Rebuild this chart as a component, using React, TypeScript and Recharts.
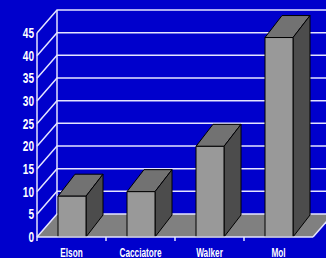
import React from "react";
import { BarChart, Bar, XAxis, YAxis, CartesianGrid } from "recharts";

const categories = ["Elson", "Cacciatore", "Walker", "Mol"];
const scores = [9, 10, 20, 44];
const yTicks = [0, 5, 10, 15, 20, 25, 30, 35, 40, 45];

const data = categories.map((name, i) => ({ name, value: scores[i] }));

// layout of the "3D" box
const W = 326;
const H = 258;
const LEFT = 37;
const RIGHT = 313;
const TOP = 33;
const BOTTOM = 237;
const DEPTH_X = 20;
const DEPTH_Y = 23;
const BAR_DX = 17;
const BAR_DY = 22;
const BAND = (RIGHT - LEFT) / categories.length;

const BG = "#0000cc";
const GRID = "#e4e4ff";
const FONT = "'Liberation Sans', Arial, sans-serif";

function GridLine(props) {
  const { x1, y1, index } = props;
  return (
    <g key={`g-${index}`}>
      {index === 0 && (
        <g>
          <polygon
            points={`${LEFT},${BOTTOM} ${RIGHT},${BOTTOM} ${RIGHT + DEPTH_X},${BOTTOM - DEPTH_Y} ${LEFT + DEPTH_X},${BOTTOM - DEPTH_Y}`}
            fill="#808080"
          />
          <line
            x1={LEFT + DEPTH_X}
            y1={TOP - DEPTH_Y}
            x2={LEFT + DEPTH_X}
            y2={BOTTOM - DEPTH_Y}
            stroke={GRID}
            strokeWidth={1.5}
          />
          <line x1={RIGHT} y1={BOTTOM} x2={RIGHT + DEPTH_X} y2={BOTTOM - DEPTH_Y} stroke={GRID} strokeWidth={1.5} />
        </g>
      )}
      <path
        d={`M${x1},${y1} L${x1 + DEPTH_X},${y1 - DEPTH_Y} L${W + 10},${y1 - DEPTH_Y}`}
        fill="none"
        stroke={GRID}
        strokeWidth={1.5}
      />
    </g>
  );
}

function Bar3D(props) {
  const { x, y, width, height } = props;
  if (height == null || width == null) return null;
  return (
    <g stroke="#000" strokeWidth={1} strokeLinejoin="round">
      <path
        d={`M${x},${y} L${x + BAR_DX},${y - BAR_DY} L${x + width + BAR_DX},${y - BAR_DY} L${x + width},${y} Z`}
        fill="#727272"
      />
      <path
        d={`M${x + width},${y} L${x + width + BAR_DX},${y - BAR_DY} L${x + width + BAR_DX},${y + height - BAR_DY} L${x + width},${y + height} Z`}
        fill="#4c4c4c"
      />
      <rect x={x} y={y} width={width} height={height} fill="#999999" />
    </g>
  );
}

function XTick(props) {
  const { x, payload } = props;
  return (
    <g>
      <line x1={x - BAND / 2} y1={BOTTOM} x2={x - BAND / 2} y2={BOTTOM + 4} stroke={GRID} strokeWidth={1.5} />
      <text
        x={0}
        y={0}
        transform={`translate(${x},${BOTTOM + 19.5}) scale(0.61,1)`}
        textAnchor="middle"
        fill="#fff"
        fontSize={13.5}
        fontWeight="bold"
        fontFamily={FONT}
      >
        {payload.value}
      </text>
    </g>
  );
}

function YTick(props) {
  const { y, payload } = props;
  return (
    <text
      x={0}
      y={0}
      transform={`translate(${LEFT - 3},${y + 5}) scale(0.72,1)`}
      textAnchor="end"
      fill="#fff"
      fontSize={14}
      fontWeight="bold"
      fontFamily={FONT}
    >
      {payload.value}
    </text>
  );
}

export default function App() {
  return (
    <div style={{ position: "absolute", left: 0, top: 0, width: W, height: H, background: BG }}>
      <BarChart
        width={W}
        height={H}
        data={data}
        margin={{ top: TOP, right: W - RIGHT, left: 7, bottom: 0 }}
      >
        <CartesianGrid horizontal={GridLine} vertical={false} />
        <XAxis
          dataKey="name"
          height={H - BOTTOM}
          tickLine={false}
          tick={XTick}
          axisLine={{ stroke: GRID, strokeWidth: 1.5 }}
          interval={0}
        />
        <YAxis
          width={30}
          domain={[0, 45]}
          ticks={yTicks}
          interval={0}
          tickLine={false}
          axisLine={{ stroke: GRID, strokeWidth: 1.5 }}
          tick={YTick}
        />
        <Bar dataKey="value" barSize={28} shape={Bar3D} isAnimationActive={false} />
      </BarChart>
    </div>
  );
}
